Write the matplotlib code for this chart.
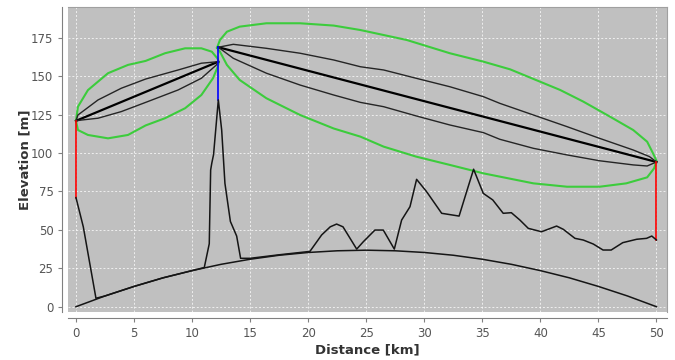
import matplotlib
matplotlib.use("Agg")
import matplotlib.pyplot as plt

# terrain profile (km, m)
terrain_km = [0, 0.63, 1.72, 2.5, 5, 7.5, 10, 11.05, 11.48, 11.6, 11.7, 11.85,
              12.26, 12.55, 12.83, 13.3, 13.84, 14.18, 15, 17.5, 20.15, 21.16,
              21.9, 22.45, 23.0, 24.18, 24.75, 25.75, 26.47, 27.42, 28.05, 28.77,
              29.34, 30.2, 31.5, 33.0, 33.65, 34.25, 35.08, 35.9, 36.8, 37.5,
              38.24, 38.96, 40.1, 41.4, 41.97, 42.98, 43.7, 44.56, 45.4, 46.1,
              47.1, 48.3, 49.15, 49.6, 50.0]
terrain_m = [71, 52, 5.5, 7.0, 13.2, 18.8, 23.5, 25.5, 41, 89, 93.5, 99,
             134.6, 115, 80.3, 55.5, 46, 31.5, 31.5, 33.8, 36.0, 46.7,
             52, 53.8, 52, 37.5, 42.3, 49.9, 49.9, 37.5, 56.4, 65.1,
             82.9, 74.9, 60.8, 59, 74.9, 89.5, 73.8, 69.5, 60.8, 61.2,
             56.4, 51, 48.8, 52.5, 50.4, 44.5, 43.4, 40.8, 36.9, 36.9,
             41.7, 43.9, 44.5, 46, 43.4]

# earth curvature
earth_km = [0, 2.5, 5, 7.5, 10, 12.5, 15, 17.5, 20, 22.5, 25, 27.5, 30, 32.5,
            35, 37.5, 40, 42.5, 45, 47.5, 50]
earth_m = [0, 7.0, 13.2, 18.8, 23.5, 27.6, 30.9, 33.5, 35.3, 36.4, 36.8, 36.4,
           35.3, 33.5, 30.9, 27.6, 23.5, 18.8, 13.2, 7.0, 0]

# antennas
site_km = [0, 12.26, 50]
site_ground = [71, 134.6, 43.4]
site_top = [121, 168.9, 94.2]
link1_end_m = 159.5

# link 1 fresnel lines
l1_up_km = [0, 0.17, 1.9, 3.9, 6.0, 8.8, 10.8, 12.26]
l1_up_m = [121, 124.8, 134.6, 142.2, 148.2, 154.1, 158.5, 159.5]
l1_lo_km = [0, 0.46, 1.9, 3.9, 6.0, 8.8, 10.8, 12.1, 12.26]
l1_lo_m = [121, 121.5, 122.7, 127, 133, 141.1, 148.7, 157.4, 159.5]
l1_green_km = [0, 0.17, 1.03, 2.76, 4.48, 6.0, 7.67, 9.4, 10.8, 11.7, 12.2, 12.3,
               12.2, 11.8, 10.8, 9.4, 7.67, 6.0, 4.48, 2.76, 1.03, 0.17, 0]
l1_green_m = [121, 130.2, 141, 152, 157.4, 160, 165, 168.2, 168.2, 166, 161.5, 159,
              156, 148.7, 137.8, 129.2, 122.7, 118, 111.8, 109.6, 111.8, 115, 121]

# link 2 fresnel lines
l2_up_km = [12.26, 13.55, 16.4, 19.3, 22.2, 24.5, 26.5, 29.3, 32.2, 35.1, 36.5,
            39.4, 42.3, 45.1, 48, 49.4, 50]
l2_up_m = [168.9, 170.8, 168.2, 165, 160.6, 156.2, 154.1, 148.7, 143.2, 136.7,
           132.4, 124.8, 117.2, 109.6, 102, 97.7, 94.2]
l2_lo_km = [12.26, 13.55, 16.4, 19.3, 22.2, 24.5, 26.5, 29.3, 32.2, 35.1, 36.5,
            39.4, 42.3, 45.1, 48, 49.2, 50]
l2_lo_m = [168.9, 161.7, 152, 144.3, 137.8, 133, 130.2, 124.2, 118.3, 113.3,
           109, 103.1, 98.8, 95, 92.3, 91.6, 94.2]
l2_green_km = [12.15, 12.4, 13, 14.1, 16.4, 19.3, 22.2, 24.5, 28.5, 32.2, 35.1,
               37.4, 41.7, 43.7, 46, 48, 49.2, 49.7, 50, 49.8, 49.2, 47.4, 45.1,
               42.3, 39.4, 35.1, 32.2, 29.3, 26.5, 24.5, 22.2, 19.3, 16.4, 14.1,
               13, 12.4, 12.15]
l2_green_m = [168.5, 173.6, 179, 182.3, 184.5, 184.5, 183, 180.1, 173.6, 165,
              159.5, 154.5, 141.1, 133.5, 123.7, 115, 107.4, 99.9, 95, 90.1, 84.2,
              80.3, 78.1, 78.1, 80.3, 86.8, 92.3, 97.7, 104.2, 110.7, 116, 124.8,
              135.7, 147.6, 157.4, 166, 168.5]

x_ticks = list(range(0, 51, 5))
y_ticks = list(range(0, 176, 25))

fig = plt.figure(figsize=(6.75, 3.6), dpi=100)
ax = fig.add_axes([0.1007, 0.1333, 0.8873, 0.8473])
ax.set_facecolor("#c0c0c0")

# grid
for t in x_ticks:
    ax.axvline(t, color="white", lw=0.7, ls=(0, (2, 2)), alpha=0.75, zorder=0)
for t in y_ticks:
    ax.axhline(t, color="white", lw=0.7, ls=(0, (2, 2)), alpha=0.75, zorder=0)

green = "#3ccc3c"
ax.plot(l1_green_km, l1_green_m, color=green, lw=1.5)
ax.plot(l2_green_km, l2_green_m, color=green, lw=1.5)

# link lines
ax.plot([site_km[0], site_km[1]], [site_top[0], link1_end_m], color="black", lw=1.6)
ax.plot([site_km[1], site_km[2]], [site_top[1], site_top[2]], color="black", lw=1.6)
for xs, ys in [(l1_up_km, l1_up_m), (l1_lo_km, l1_lo_m),
               (l2_up_km, l2_up_m), (l2_lo_km, l2_lo_m)]:
    ax.plot(xs, ys, color="#252525", lw=1.0)

# masts
ax.plot([site_km[0]] * 2, [site_ground[0], site_top[0]], color="red", lw=1.2)
ax.plot([site_km[1]] * 2, [site_ground[1], site_top[1]], color="blue", lw=1.2)
ax.plot([site_km[2]] * 2, [site_ground[2], site_top[2]], color="red", lw=1.2)

ax.plot(terrain_km, terrain_m, color="#151515", lw=1.1)
ax.plot(earth_km, earth_m, color="#151515", lw=1.1)

ax.set_xlim(-0.69, 50.9)
ax.set_ylim(-3.45, 195.1)
ax.set_xticks(x_ticks)
ax.set_yticks(y_ticks)

for s in ["top", "right"]:
    ax.spines[s].set_color("#a0a0a0")
for s in ["left", "bottom"]:
    ax.spines[s].set_position(("outward", 4))
    ax.spines[s].set_color("#808080")
ax.tick_params(colors="#808080", labelcolor="#555555", labelsize=8.5,
               length=3, direction="out")

ax.set_xlabel("Distance [km]", fontsize=9.5, fontweight="bold", color="#333333",
              labelpad=3)
ax.set_ylabel("Elevation [m]", fontsize=9.5, fontweight="bold", color="#333333",
              labelpad=0)

fig.savefig("out.png", dpi=100)
